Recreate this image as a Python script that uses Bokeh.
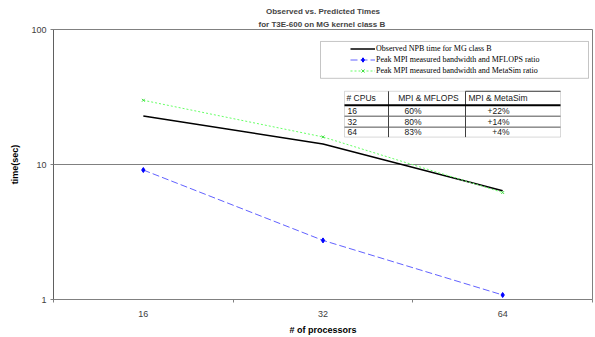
from bokeh.plotting import figure
from bokeh.models import (FixedTicker, Title, Legend, LegendItem, BoxAnnotation,
                          PrintfTickFormatter, Range1d)
from bokeh.core.properties import value
from bokeh.embed import file_html
from bokeh.resources import INLINE

# ---- data ----
cpus = ["16", "32", "64"]
observed = [22.9, 14.2, 6.4]
mpi_mflops = [9.1, 2.74, 1.08]
mpi_metasim = [29.9, 16.0, 6.2]

tbl_header = ["# CPUs", "MPI & MFLOPS", "MPI & MetaSim"]
tbl_mflops = ["60%", "80%", "83%"]
tbl_metasim = ["+22%", "+14%", "+4%"]

W, H = 595, 337
L, R, T, B = 53, 592, 29, 300

p = figure(width=W, height=H, output_backend="svg", toolbar_location=None,
           y_axis_type="log", x_range=Range1d(0, 3), y_range=Range1d(1, 100),
           min_border_left=L, min_border_right=W - R, min_border_top=T,
           min_border_bottom=H - B)
p.background_fill_color = "white"
p.border_fill_color = "white"
p.outline_line_color = "#808080"

# helpers mapping reference-picture pixels to data coordinates (annotations only)
def dx(px):
    return (px - L) / (R - L) * 3

def dy(py):
    return 10 ** (2 * (B - py) / (B - T))

xs = [i + 0.5 for i in range(len(cpus))]

# axes
xa = p.xaxis[0]
xa.ticker = FixedTicker(ticks=xs, minor_ticks=[0, 1, 2, 3])
xa.major_label_overrides = {x: c for x, c in zip(xs, cpus)}
xa.major_tick_out = 0
xa.major_tick_in = 0
xa.minor_tick_out = 3
xa.minor_tick_in = 0
xa.minor_tick_line_color = "#808080"
xa.axis_line_color = "#808080"
xa.major_label_text_font = "Liberation Sans"
xa.major_label_text_font_size = "9px"
xa.major_label_text_color = "#404040"
xa.major_label_standoff = 8
xa.axis_label = "# of processors"
xa.axis_label_text_font = "Liberation Sans"
xa.axis_label_text_font_style = "bold"
xa.axis_label_text_font_size = "9px"
xa.axis_label_text_color = "black"
xa.axis_label_standoff = 5

ya = p.yaxis[0]
ya.ticker = FixedTicker(ticks=[1, 10, 100], minor_ticks=[])
ya.formatter = PrintfTickFormatter(format="%d")
ya.major_tick_out = 3
ya.major_tick_in = 0
ya.minor_tick_out = 0
ya.minor_tick_in = 0
ya.major_tick_line_color = "#808080"
ya.axis_line_color = "#606060"
ya.major_label_text_font = "Liberation Sans"
ya.major_label_text_font_size = "9px"
ya.major_label_text_color = "#404040"
ya.major_label_standoff = 4
ya.axis_label = "time(sec)"
ya.axis_label_text_font = "Liberation Sans"
ya.axis_label_text_font_style = "bold"
ya.axis_label_text_font_size = "9px"
ya.axis_label_text_color = "black"
ya.axis_label_standoff = 8

p.xgrid.visible = False
p.ygrid.grid_line_color = "#808080"
p.ygrid.grid_line_width = 1

# titles
t2 = Title(text="for T3E-600 on MG kernel  class B", align="center",
           text_font="Liberation Sans", text_font_style="bold",
           text_font_size="8px", standoff=2, offset=0)
t1 = Title(text="Observed vs. Predicted Times", align="center",
           text_font="Liberation Sans", text_font_style="bold",
           text_font_size="8px", standoff=1, offset=0)
p.add_layout(t2, "above")
p.add_layout(t1, "above")

# legend frame box
p.add_layout(BoxAnnotation(left=dx(320), right=dx(588), top=dy(41), bottom=dy(78),
                           fill_color="white", fill_alpha=1, line_color="#404040",
                           line_width=1, level="underlay"))

# series
r_obs = p.line(xs, observed, line_color="black", line_width=1.5)
r_mf = p.line(xs, mpi_mflops, line_color="#6262ff", line_width=1, line_dash="7 3")
r_mf_m = p.scatter(xs, mpi_mflops, marker="diamond", size=5, fill_color="#0000ff",
                   line_color="#0000ff")
r_ms = p.line(xs, mpi_metasim, line_color="#66ff66", line_width=1, line_dash="2 2")
r_ms_m = p.scatter(xs, mpi_metasim, marker="x", size=4, line_color="#44dd44")

legend = Legend(items=[
    LegendItem(label="Observed NPB time for MG class B", renderers=[r_obs]),
    LegendItem(label="Peak MPI measured bandwidth and MFLOPS ratio", renderers=[r_mf, r_mf_m]),
    LegendItem(label="Peak MPI measured bandwidth and MetaSim ratio", renderers=[r_ms, r_ms_m]),
], location=(297, 223), border_line_color=None, background_fill_alpha=0,
    padding=0, margin=0, spacing=0, label_height=11, glyph_height=11,
    glyph_width=25, label_standoff=1, label_text_font="Liberation Serif",
    label_text_font_size="8px", label_text_color="black")
p.add_layout(legend, "center")

# table
tx = [344, 388, 465, 560]
ty = [91, 105, 116, 127, 137]
p.add_layout(BoxAnnotation(left=dx(tx[0]), right=dx(tx[3]), top=dy(ty[0]), bottom=dy(ty[4]),
                           fill_color="white", fill_alpha=1, line_color="#808080",
                           line_width=1, level="underlay"))
# vertical separators
p.segment(x0=[dx(tx[1]), dx(tx[2])], y0=[dy(ty[0])] * 2,
          x1=[dx(tx[1]), dx(tx[2])], y1=[dy(ty[4])] * 2,
          line_color="#404040", line_width=1)
# thick header line
p.segment(x0=[dx(tx[0])], y0=[dy(ty[1])], x1=[dx(tx[3])], y1=[dy(ty[1])],
          line_color="black", line_width=2)
# row lines
p.segment(x0=[dx(tx[0])] * 2, y0=[dy(ty[2]), dy(ty[3])],
          x1=[dx(tx[3])] * 2, y1=[dy(ty[2]), dy(ty[3])],
          line_color="#505050", line_width=1)
# third header cell outline top
p.segment(x0=[dx(tx[2])], y0=[dy(ty[0])], x1=[dx(tx[3])], y1=[dy(ty[0])],
          line_color="#404040", line_width=1)

row_y = [dy(110.5), dy(121.5), dy(132)]
hdr_y = dy(98)
font = value("Liberation Sans")
p.text(x=[dx(346)], y=[hdr_y], text=[tbl_header[0]], text_font=font,
       text_font_size="8.5px", text_baseline="middle", text_align="left", text_color="#202020")
p.text(x=[dx(428)], y=[hdr_y], text=[tbl_header[1]], text_font=font,
       text_font_size="8.5px", text_baseline="middle", text_align="center", text_color="#202020")
p.text(x=[dx(468)], y=[hdr_y], text=[tbl_header[2]], text_font=font,
       text_font_size="8.5px", text_baseline="middle", text_align="left", text_color="#202020")
p.text(x=[dx(347)] * 3, y=row_y, text=cpus, text_font=font,
       text_font_size="8.5px", text_baseline="middle", text_align="left", text_color="#202020")
p.text(x=[dx(404)] * 3, y=row_y, text=tbl_mflops, text_font=font,
       text_font_size="8.5px", text_baseline="middle", text_align="left", text_color="#202020")
p.text(x=[dx(509)] * 3, y=row_y, text=tbl_metasim, text_font=font,
       text_font_size="8.5px", text_baseline="middle", text_align="right", text_color="#202020")

open("out.html", "w").write(file_html(p, INLINE))
